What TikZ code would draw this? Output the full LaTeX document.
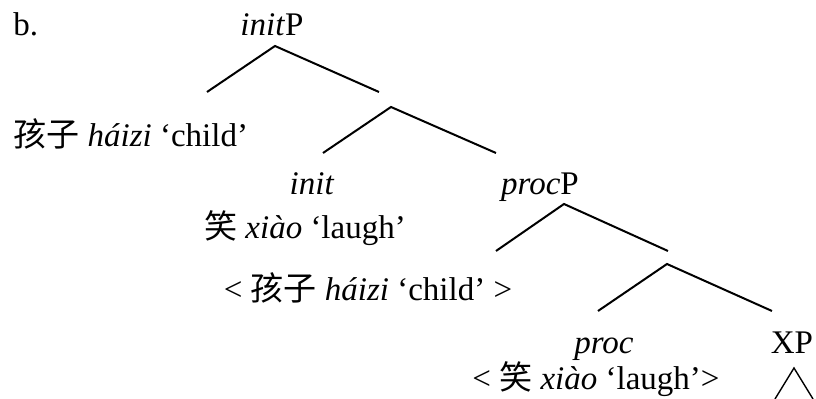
\documentclass[tikz,border=0pt]{standalone}
\usepackage{fontspec}
\setmainfont{Liberation Serif}
\newfontfamily\zh{Noto Sans CJK SC}

\begin{document}
\begin{tikzpicture}[x=0.5pt, y=-0.5pt,
    lbl/.style={inner sep=0pt, anchor=base, font=\fontsize{16.5}{20}\selectfont},
    branch/.style={line width=1pt}]
  \useasboundingbox (0,0) rectangle (816,399);

  %example number
  \node[lbl, anchor=base west] (ex) at (13,36) {b.};

  %initP
  \node[lbl] (initP) at (272,36) {\textit{init}P};
  \node[lbl, anchor=base west] (spec) at (13,147) {{\zh 孩子} \textit{háizi} ‘child’};

  %init
  \node[lbl] (init) at (312,195) {\textit{init}};
  \node[lbl] (initV) at (305,239) {{\zh 笑} \textit{xiào} ‘laugh’};

  %procP
  \node[lbl] (procP) at (540,195) {\textit{proc}P};
  \node[lbl] (copy) at (368,301) {< {\zh 孩子} \textit{háizi} ‘child’ >};

  %proc and XP
  \node[lbl] (proc) at (604,354) {\textit{proc}};
  \node[lbl] (procV) at (596,390) {< {\zh 笑} \textit{xiào} ‘laugh’>};
  \node[lbl] (XP) at (792,354) {XP};

  %branching points
  \coordinate (b1) at (275,46);  \coordinate (b1l) at (207,92);  \coordinate (b1r) at (379,92);
  \coordinate (b2) at (391,107); \coordinate (b2l) at (323,153); \coordinate (b2r) at (496,153);
  \coordinate (b3) at (564,204); \coordinate (b3l) at (496,251); \coordinate (b3r) at (668,251);
  \coordinate (b4) at (667,264); \coordinate (b4l) at (598,311); \coordinate (b4r) at (772,311);
  \coordinate (t)  at (794,368); \coordinate (tl)  at (775,399); \coordinate (tr)  at (813,399);

  \draw[branch] (b1l) -- (b1) -- (b1r);
  \draw[branch] (b2l) -- (b2) -- (b2r);
  \draw[branch] (b3l) -- (b3) -- (b3r);
  \draw[branch] (b4l) -- (b4) -- (b4r);
  %XP triangle
  \draw[line width=0.7pt] (tl) -- (t) -- (tr);

\end{tikzpicture}
\end{document}
